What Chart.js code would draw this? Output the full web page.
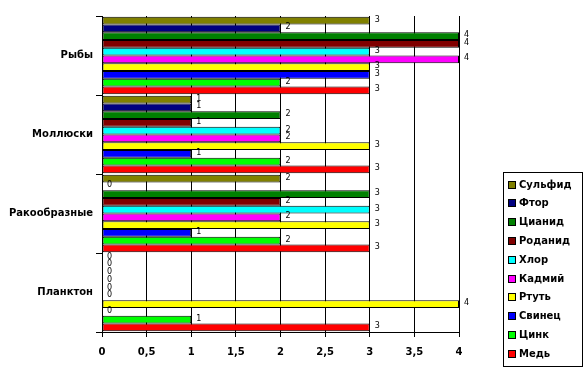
<!DOCTYPE html>
<html><head><meta charset="utf-8">
<script src="https://cdn.jsdelivr.net/npm/chart.js@4"></script>
<style>html,body{margin:0;padding:0;background:#fff}#wrap{width:588px;height:371px}</style>
</head><body><div id="wrap"><canvas id="c" width="588" height="371"></canvas></div>
<script>
const categories = ["Рыбы", "Моллюски", "Ракообразные", "Планктон"];
const seriesNames = ["Сульфид", "Фтор", "Цианид", "Роданид", "Хлор", "Кадмий", "Ртуть", "Свинец", "Цинк", "Медь"];
const sulfid  = [3, 1, 2, 0];
const ftor    = [2, 1, 0, 0];
const cianid  = [4, 2, 3, 0];
const rodanid = [4, 1, 2, 0];
const hlor    = [3, 2, 3, 0];
const kadmiy  = [4, 2, 2, 0];
const rtut    = [3, 3, 3, 4];
const svinec  = [3, 1, 1, 0];
const cink    = [2, 2, 2, 1];
const med     = [3, 3, 3, 3];
const xTicks = ["0", "0,5", "1", "1,5", "2", "2,5", "3", "3,5", "4"];
const colors = ["#808000", "#000080", "#008000", "#800000", "#00FFFF", "#FF00FF", "#FFFF00", "#0000FF", "#00FF00", "#FF0000"];
const seriesValues = [sulfid, ftor, cianid, rodanid, hlor, kadmiy, rtut, svinec, cink, med];

const FONT = "DejaVu Sans";

const labelPlugin = {
  id: 'vals',
  afterDatasetsDraw(chart) {
    const ctx = chart.ctx;
    ctx.save();
    ctx.font = "8px " + FONT;
    ctx.fillStyle = "#000";
    ctx.textBaseline = "middle";
    ctx.textAlign = "left";
    chart.data.datasets.forEach((ds, i) => {
      const meta = chart.getDatasetMeta(i);
      meta.data.forEach((bar, j) => {
        const v = ds.data[j];
        ctx.fillText(String(v), bar.x + 5, bar.y - 1);
      });
    });
    ctx.restore();
  }
};

const legendPlugin = {
  id: 'boxLegend',
  afterDraw(chart) {
    const ctx = chart.ctx;
    ctx.save();
    const x0 = 503.5, y0 = 172.5, w = 79, h = 194;
    ctx.fillStyle = "#fff";
    ctx.fillRect(x0, y0, w, h);
    ctx.strokeStyle = "#000";
    ctx.lineWidth = 1;
    ctx.strokeRect(x0, y0, w, h);
    ctx.font = "bold 10px " + FONT;
    ctx.textBaseline = "middle";
    ctx.textAlign = "left";
    chart.data.datasets.forEach((ds, i) => {
      const cy = 184.5 + i * 18.8;
      ctx.fillStyle = ds.backgroundColor;
      ctx.fillRect(508.5, Math.round(cy) - 3.5, 7, 7);
      ctx.strokeStyle = "#000";
      ctx.strokeRect(508.5, Math.round(cy) - 3.5, 7, 7);
      ctx.fillStyle = "#000";
      ctx.fillText(ds.label, 519, Math.round(cy) + 0.5);
    });
    ctx.restore();
  }
};

new Chart(document.getElementById('c'), {
  type: 'bar',
  data: {
    labels: categories,
    datasets: seriesNames.map((n, i) => ({
      label: n,
      data: seriesValues[i],
      backgroundColor: colors[i],
      borderColor: "#000",
      borderWidth: 1,
      borderSkipped: false,
      categoryPercentage: 0.98,
      barPercentage: 1.0
    }))
  },
  options: {
    indexAxis: 'y',
    responsive: false,
    animation: false,
    layout: { padding: { top: 16, right: 129, left: 0, bottom: 0 } },
    plugins: { legend: { display: false }, tooltip: { enabled: false } },
    scales: {
      x: {
        min: 0, max: 4,
        ticks: {
          stepSize: 0.5,
          color: "#000",
          font: { family: FONT, size: 10, weight: 'bold' },
          padding: 9,
          callback: (v, idx) => xTicks[idx]
        },
        grid: { color: "#000", lineWidth: 1, drawOnChartArea: true, drawTicks: true, tickLength: 5 },
        border: { color: "#000", width: 1 },
        afterFit(s) { s.height = 39; }
      },
      y: {
        ticks: {
          color: "#000",
          font: { family: FONT, size: 10, weight: 'bold' },
          padding: 3
        },
        grid: { color: "#000", drawOnChartArea: false, drawTicks: true, tickLength: 6, offset: true },
        border: { color: "#000", width: 1 },
        afterFit(s) { s.width = 102; }
      }
    }
  },
  plugins: [labelPlugin, legendPlugin]
});
</script>
</body></html>
